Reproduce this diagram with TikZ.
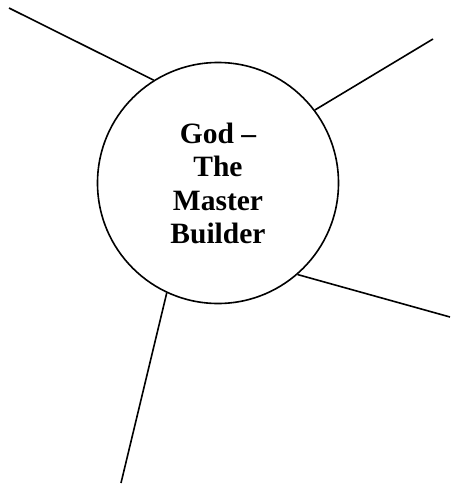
\documentclass[tikz,border=0pt]{standalone}
\usepackage{fontspec}
\setmainfont{Liberation Serif}
\begin{document}
\begin{tikzpicture}[x=1pt,y=-1pt,
  spoke/.style={line width=1.6pt},
  hub/.style={circle,draw,line width=1.6pt,minimum size=241pt,inner sep=0pt}]
\useasboundingbox (0,0) rectangle (451,485);
\node[hub] (c) at (218,183) {};
\node[align=center,inner sep=0pt,font=\fontsize{29.5}{33.5}\selectfont\bfseries] (t) at (218,183.5) {God --\\The\\Master\\Builder};
\coordinate (e1) at (9,8);
\coordinate (e2) at (433,39);
\coordinate (e3) at (450,317);
\coordinate (e4) at (121,483);
\draw[spoke] (c.122.5) -- (e1);
\draw[spoke] (c.37.3) -- (e2);
\draw[spoke] (c.311.3) -- (e3);
\draw[spoke] (c.245.6) -- (e4);
\end{tikzpicture}
\end{document}
